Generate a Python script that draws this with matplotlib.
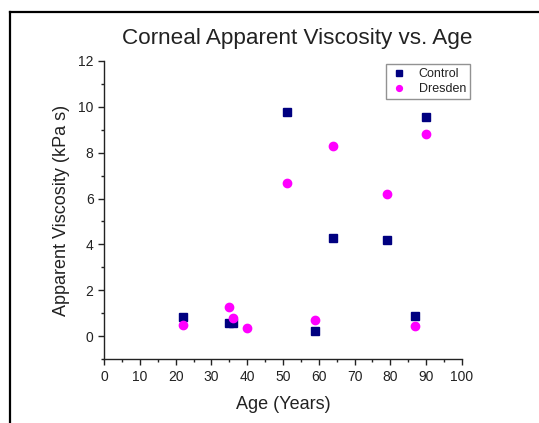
import matplotlib
matplotlib.use("Agg")
import matplotlib.pyplot as plt
from matplotlib.lines import Line2D

plt.rcParams['font.family'] = ['Liberation Sans', 'DejaVu Sans']

# ages and apparent viscosity (kPa s)
control_age = [22, 35, 36, 51, 59, 64, 79, 87, 90]
control_visc = [0.84, 0.58, 0.58, 9.76, 0.23, 4.29, 4.19, 0.87, 9.54]
dresden_age = [22, 35, 36, 40, 51, 59, 64, 79, 87, 90]
dresden_visc = [0.48, 1.28, 0.80, 0.34, 6.66, 0.70, 8.30, 6.18, 0.45, 8.83]

x_ticks = list(range(0, 101, 10))
y_ticks = list(range(0, 13, 2))

txt = '#222222'

fig = plt.figure(figsize=(5.39, 4.23), dpi=100)
ax = fig.add_axes([0.193, 0.151, 0.664, 0.705])

ax.plot(control_age, control_visc, 's', color='#000080', markersize=5.5,
        linestyle='none', label='Control')
ax.plot(dresden_age, dresden_visc, 'o', color='#ff00ff', markersize=6,
        linestyle='none', label='Dresden')

ax.set_xlim(0, 100)
ax.set_ylim(-1, 12)
ax.set_xticks(x_ticks)
ax.set_yticks(y_ticks)
ax.set_xticks(range(5, 100, 10), minor=True)
ax.set_yticks(range(-1, 12, 2), minor=True)
ax.spines['top'].set_visible(False)
ax.spines['right'].set_visible(False)
for s in ('left', 'bottom'):
    ax.spines[s].set_color(txt)
    ax.spines[s].set_linewidth(1.0)
ax.tick_params(which='major', direction='out', length=4, width=1,
               colors=txt, labelsize=10)
ax.tick_params(which='minor', direction='out', length=2.5, width=1, colors=txt)

ax.set_xlabel('Age (Years)', fontsize=13, color=txt, labelpad=9)
ax.set_ylabel('Apparent Viscosity (kPa s)', fontsize=13, color=txt, labelpad=6)
fig.text(0.552, 0.91, 'Corneal Apparent Viscosity vs. Age', ha='center',
         va='center', fontsize=16.2, color=txt)

leg = ax.legend(loc='upper right', bbox_to_anchor=(0.883, 0.863),
                bbox_transform=fig.transFigure, fontsize=9, markerscale=0.7,
                frameon=True, fancybox=False, borderpad=0.3, handletextpad=0.8,
                labelspacing=0.25, handlelength=1.5)
leg.get_frame().set_edgecolor('#777777')
leg.get_frame().set_linewidth(1.0)
for t in leg.get_texts():
    t.set_color(txt)

# page frame lines along top and left
fig.add_artist(Line2D([10 / 539, 1], [1 - 12 / 423, 1 - 12 / 423],
                      transform=fig.transFigure, color='black', linewidth=1.6))
fig.add_artist(Line2D([10 / 539, 10 / 539], [0, 1 - 12 / 423],
                      transform=fig.transFigure, color='black', linewidth=1.6))

fig.savefig('out.png', dpi=100)
